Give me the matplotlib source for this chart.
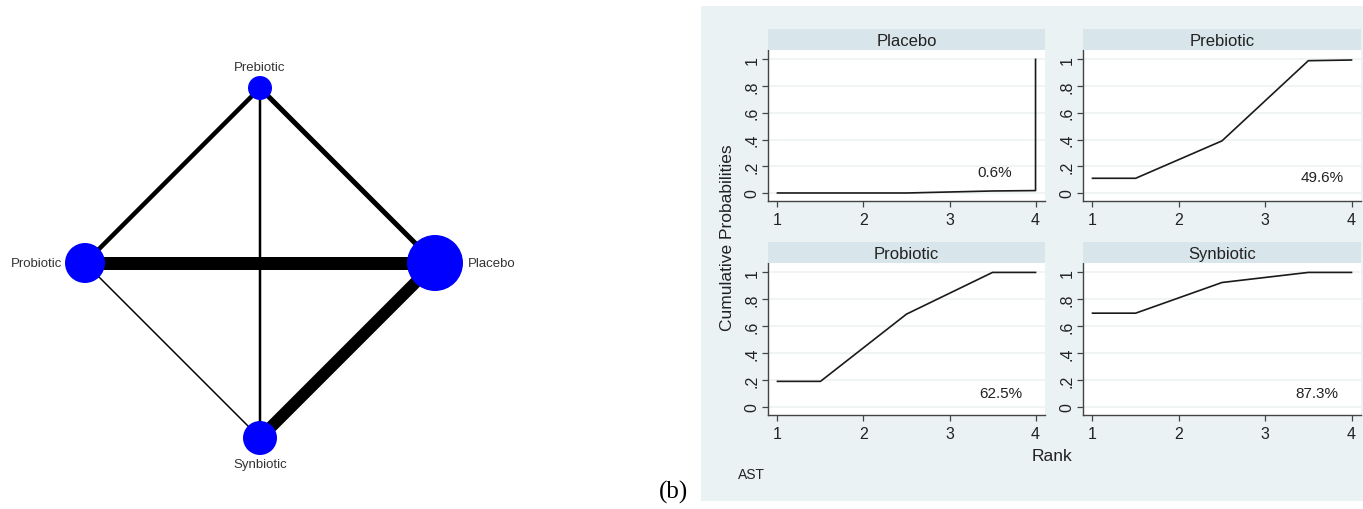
import numpy as np
import matplotlib
matplotlib.use("Agg")
import matplotlib.pyplot as plt
from matplotlib.patches import Rectangle

plt.rcParams['font.family'] = ['Liberation Sans', 'DejaVu Sans']

# network data: treatments, relative node size, comparisons and number of studies
treatments = ['Placebo', 'Prebiotic', 'Probiotic', 'Synbiotic']
node_weight = [28, 12, 20, 17]
edges = [('Probiotic', 'Placebo'), ('Synbiotic', 'Placebo'), ('Prebiotic', 'Placebo'),
         ('Prebiotic', 'Probiotic'), ('Prebiotic', 'Synbiotic'), ('Probiotic', 'Synbiotic')]
edge_weight = [13, 12, 5, 4.5, 2.5, 1.5]

# cumulative ranking probabilities
rank_x = [1, 1.5, 2.5, 3.5, 4]
panels = ['Placebo', 'Prebiotic', 'Probiotic', 'Synbiotic']
cum_x = {
    'Placebo': [1, 1.5, 2.5, 3.5, 4, 4],
    'Prebiotic': rank_x,
    'Probiotic': rank_x,
    'Synbiotic': rank_x,
}
cum_y = {
    'Placebo': [0, 0, 0, 0.015, 0.018, 1.0],
    'Prebiotic': [0.11, 0.11, 0.39, 0.99, 0.995],
    'Probiotic': [0.19, 0.19, 0.69, 1.0, 1.0],
    'Synbiotic': [0.697, 0.697, 0.925, 1.0, 1.0],
}
sucra = {'Placebo': 0.6, 'Prebiotic': 49.6, 'Probiotic': 62.5, 'Synbiotic': 87.3}
yticks = [0, 0.2, 0.4, 0.6, 0.8, 1]
ytick_labels = ['0', '.2', '.4', '.6', '.8', '1']
xticks = [1, 2, 3, 4]

W, H = 1363, 510
fig = plt.figure(figsize=(W / 100, H / 100), dpi=100)
fig.patch.set_facecolor('white')


def px_axes(x0, y0, x1, y1):
    return fig.add_axes([x0 / W, 1 - y1 / H, (x1 - x0) / W, (y1 - y0) / H])


# ---- (a) network plot ----
ax_net = px_axes(0, 0, 520, 510)
ax_net.set_xlim(0, 520)
ax_net.set_ylim(510, 0)
ax_net.axis('off')

cx, cy, R = 260, 264, 175
angles = np.deg2rad([0, 90, 180, 270])
pos = {t: (cx + R * np.cos(a), cy - R * np.sin(a)) for t, a in zip(treatments, angles)}
rad = dict(zip(treatments, node_weight))

for (a, b), w in zip(edges, edge_weight):
    ax_net.plot([pos[a][0], pos[b][0]], [pos[a][1], pos[b][1]],
                color='black', lw=w * 0.72, solid_capstyle='butt', zorder=1)

for t in treatments:
    x, y = pos[t]
    ax_net.scatter([x], [y], s=(2 * rad[t] * 0.72) ** 2, color='#0000FF',
                   edgecolors='none', zorder=3)

lab_kw = dict(fontsize=9.5, color='#333333')
for t in treatments:
    x, y = pos[t]
    r = rad[t]
    if t == 'Prebiotic':
        ax_net.text(x, y - r - 3, t, ha='center', va='bottom', **lab_kw)
    elif t == 'Synbiotic':
        ax_net.text(x, y + r + 3, t, ha='center', va='top', **lab_kw)
    elif t == 'Probiotic':
        ax_net.text(x - r - 3, y, t, ha='right', va='center', **lab_kw)
    else:
        ax_net.text(x + r + 5, y, t, ha='left', va='center', **lab_kw)

# ---- (b) cumulative ranking plots ----
bg = '#EAF2F3'
strip_col = '#D8E5EA'
bg_rect = Rectangle((701 / W, 1 - 502 / H), (W - 701) / W, (502 - 7) / H,
                    transform=fig.transFigure, facecolor=bg, edgecolor='none',
                    zorder=-5)
fig.patches.append(bg_rect)

boxes = {
    'Placebo': (768, 51, 1045, 202),
    'Prebiotic': (1083, 51, 1361, 202),
    'Probiotic': (768, 264, 1045, 416),
    'Synbiotic': (1083, 264, 1361, 416),
}
text_y = {'Placebo': 0.16, 'Prebiotic': 0.12, 'Probiotic': 0.10, 'Synbiotic': 0.10}
text_x = {'Placebo': 3.52, 'Prebiotic': 3.66, 'Probiotic': 3.6, 'Synbiotic': 3.6}

for name in panels:
    x0, y0, x1, y1 = boxes[name]
    ax = px_axes(x0, y0, x1, y1)
    ax.set_facecolor('white')
    ax.set_xlim(0.89, 4.11)
    ax.set_ylim(-0.06, 1.07)
    for y in yticks:
        ax.axhline(y, color='#EDF2F4', lw=1.2, zorder=0)
    ax.plot(cum_x[name], cum_y[name], color='#1a1a1a', lw=1.2, zorder=2)
    ax.text(text_x[name], text_y[name], f'{sucra[name]}%', ha='center', va='center',
            fontsize=11, color='#222222')
    ax.set_xticks(xticks)
    ax.set_xticklabels([str(v) for v in xticks])
    ax.set_yticks(yticks)
    ax.set_yticklabels(ytick_labels, rotation=90, va='center')
    for side in ['top', 'right']:
        ax.spines[side].set_visible(False)
    for side in ['left', 'bottom']:
        ax.spines[side].set_color('#444444')
        ax.spines[side].set_linewidth(1.0)
    ax.tick_params(direction='out', length=4, width=0.9, color='#444444',
                   labelsize=11.5, labelcolor='#222222')
    ax.tick_params(axis='x', pad=4)
    ax.tick_params(axis='y', pad=2)

    # panel strip
    sax = px_axes(x0, y0 - 21, x1, y0)
    sax.set_facecolor(strip_col)
    sax.set_xticks([])
    sax.set_yticks([])
    for sp in sax.spines.values():
        sp.set_visible(False)
    sax.text(0.5, 0.45, name, ha='center', va='center', fontsize=12, color='#222222',
             transform=sax.transAxes)

fig.text(727 / W, 1 - 238 / H, 'Cumulative Probabilities', rotation=90,
         ha='center', va='center', fontsize=12.5, color='#222222')
fig.text(1052 / W, 1 - 457 / H, 'Rank', ha='center', va='center',
         fontsize=12.5, color='#222222')
fig.text(738 / W, 1 - 475 / H, 'AST', ha='left', va='center',
         fontsize=10, color='#222222')
fig.text(673 / W, 1 - 492 / H, '(b)', ha='center', va='center',
         fontsize=18, family=['Liberation Serif', 'DejaVu Serif'], color='black')

fig.savefig('out.png', dpi=100, facecolor='white')
